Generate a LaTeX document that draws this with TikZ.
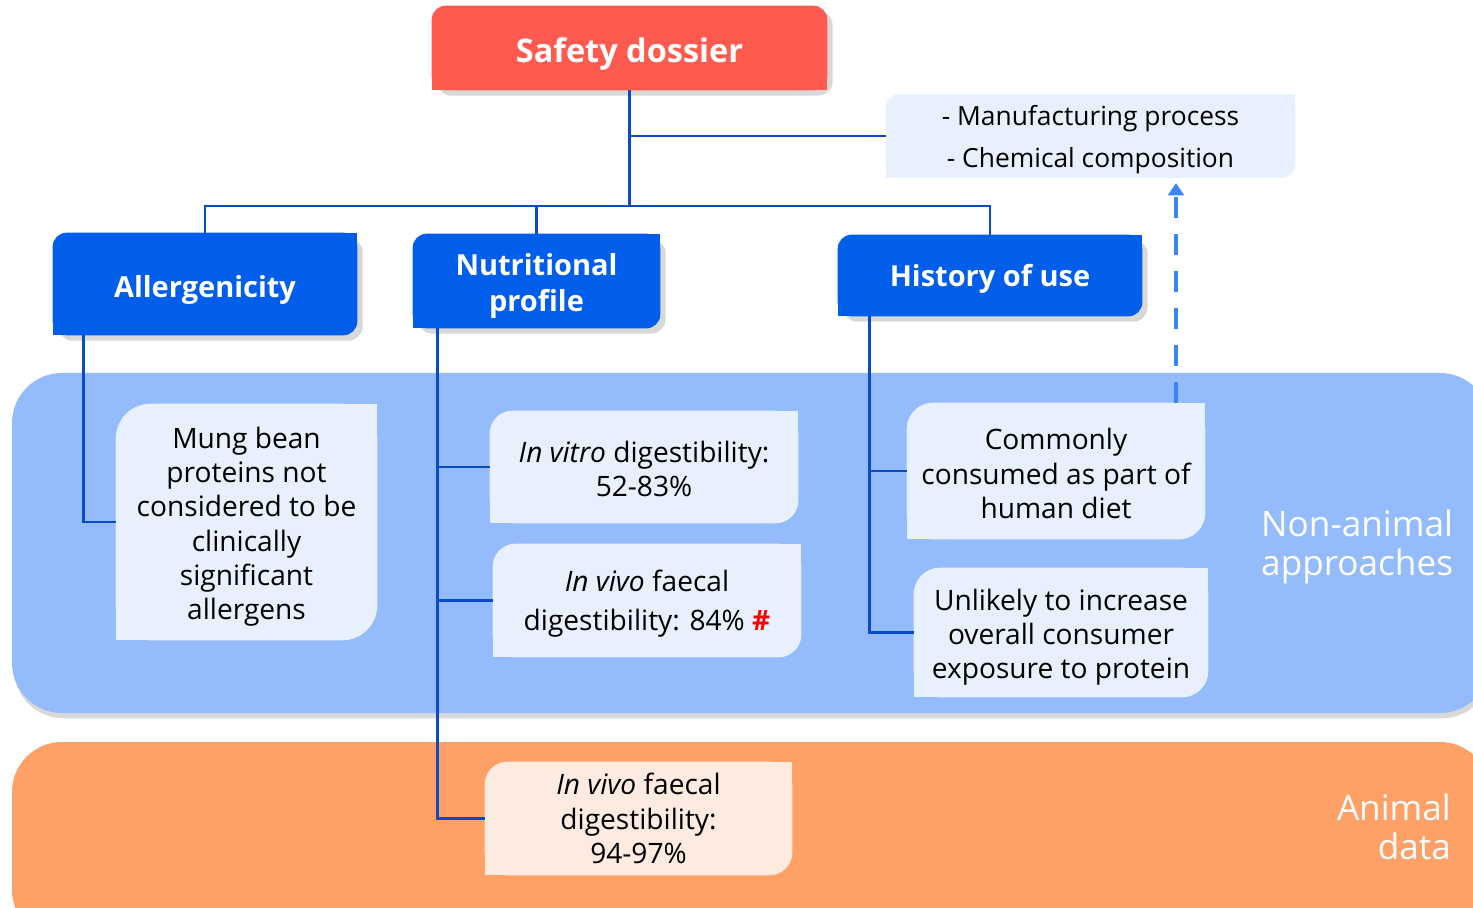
\documentclass[tikz,border=0pt]{standalone}
\usepackage{fontspec}
\setmainfont{Open Sans}
\usetikzlibrary{shadows,arrows.meta}

\definecolor{dossierred}{HTML}{FF5A50}
\definecolor{headblue}{HTML}{005EEA}
\definecolor{linkblue}{HTML}{0A4CC8}
\definecolor{bandblue}{HTML}{94BBFC}
\definecolor{cardblue}{HTML}{E8F0FD}
\definecolor{bandorange}{HTML}{FFA066}
\definecolor{cardorange}{HTML}{FDEBE0}
\definecolor{dashblue}{HTML}{3A86F7}

\pgfdeclarelayer{back}
\pgfdeclarelayer{boxes}
\pgfsetlayers{back,boxes,main}

% box behind node #2: rounded top left and bottom right corners
\newcommand{\leaf}[4][]{%
  \begin{pgfonlayer}{boxes}
    \fill[#3, rounded corners=#4, #1] (#2.north east) -- (#2.south east) -- (#2.south west) -- (#2.north west) -- cycle;
    \fill[#3] (#2.north east) rectangle ([xshift=-#4, yshift=-#4]#2.north east);
    \fill[#3] (#2.south west) rectangle ([xshift=#4, yshift=#4]#2.south west);
  \end{pgfonlayer}}
% strut that sets the height of a first line
\newcommand{\lift}[1]{\rule{0pt}{#1}}

\begin{document}
\begin{tikzpicture}[x=0.02cm, y=-0.02cm,
    header/.style={text=white, font=\fontsize{16.5}{20.5}\selectfont\bfseries, align=center, inner sep=0pt},
    card/.style={font=\fontsize{16}{19.5}\selectfont, align=center, inner sep=0pt},
    link/.style={draw=linkblue, line width=1.5pt},
    side/.style={text=white, font=\fontsize{20}{22}\selectfont},
    hshadow/.style={drop shadow={shadow xshift=3pt, shadow yshift=-3pt, opacity=.3}}]
    \useasboundingbox (0,0) rectangle (1473,908);

    % bands
    \begin{pgfonlayer}{back}
        \fill[white] (0,0) rectangle (1473,908);
        \fill[bandblue, rounded corners=1cm, drop shadow={shadow xshift=1pt, shadow yshift=-3pt, opacity=.3}] (12,373) rectangle (1490,713);
        \fill[bandorange, rounded corners=1cm, drop shadow={shadow xshift=1pt, shadow yshift=-3pt, opacity=.3}] (12,742) rectangle (1490,940);
    \end{pgfonlayer}

    % top
    \node[header, font=\fontsize{18.5}{22}\selectfont\bfseries, minimum width=7.9cm, minimum height=1.68cm] (safety) at (629.5,48) {\lift{21pt}Safety dossier};
    \begin{pgfonlayer}{boxes}
        \fill[dossierred, hshadow, rounded corners=8pt] (safety.south west) -- (safety.north west) -- (safety.north east) -- (safety.south east) -- cycle;
        \fill[dossierred] (safety.south west) rectangle ([yshift=9pt]safety.south east);
    \end{pgfonlayer}
    \node[card, font=\fontsize{15}{24}\selectfont, minimum width=8.18cm, minimum height=1.66cm] (manuf) at (1090.5,136) {\lift{16pt}- Manufacturing process\\- Chemical composition};
    \leaf{manuf}{cardblue}{8pt}
    \coordinate (hub) at (629.5,206);

    % headers
    \node[header, minimum width=6.08cm, minimum height=2.04cm] (allerg) at (205,284) {\lift{19.5pt}Allergenicity};
    \leaf[hshadow]{allerg}{headblue}{8pt}
    \node[header, minimum width=4.94cm, minimum height=1.88cm] (nutr) at (536.5,281) {\lift{18pt}Nutritional\\profile};
    \leaf[hshadow]{nutr}{headblue}{8pt}
    \node[header, minimum width=6.08cm, minimum height=1.62cm] (hist) at (990,275.5) {\lift{17pt}History of use};
    \leaf[hshadow]{hist}{headblue}{8pt}

    % cards
    \node[card, minimum width=5.22cm, minimum height=4.72cm] (mung) at (246.5,522) {\lift{17.5pt}Mung bean\\proteins not\\considered to be\\clinically\\significant\\allergens};
    \leaf{mung}{cardblue}{20pt}
    \node[card, minimum width=6.16cm, minimum height=2.24cm] (vitro) at (644,467) {\lift{14.5pt}\textit{In vitro} digestibility:\\52-83\%};
    \leaf{vitro}{cardblue}{13pt}
    \node[card, font=\fontsize{16}{22}\selectfont, minimum width=6.16cm, minimum height=2.26cm] (vivo) at (647,600.5) {\lift{16pt}\textit{In vivo} faecal\\digestibility: 84\% {\color{red}\bfseries\#}};
    \leaf{vivo}{cardblue}{13pt}
    \node[card, minimum width=6.14cm, minimum height=2.26cm] (animal) at (638.5,818.5) {\textit{In vivo} faecal\\digestibility:\\94-97\%};
    \leaf{animal}{cardorange}{13pt}
    \node[card, minimum width=5.96cm, minimum height=2.72cm] (common) at (1056,471) {\lift{15pt}Commonly\\consumed as part of\\human diet};
    \leaf{common}{cardblue}{15pt}
    \node[card, minimum width=5.88cm, minimum height=2.58cm] (unlikely) at (1061,632.5) {\lift{17.5pt}Unlikely to increase\\overall consumer\\exposure to protein};
    \leaf{unlikely}{cardblue}{15pt}

    % band labels
    \node[side, align=left, anchor=west] (nonanimal) at (1255,547) {Non-animal\\approaches};
    \node[side, align=right, anchor=east] (animaldata) at (1457,827) {Animal\\data};

    % connectors
    \draw[link] (safety.south) -- (hub);
    \draw[link] (safety.south) |- (manuf.west);
    \draw[link] (allerg.north) |- (hub);
    \draw[link] (nutr.north) |- (hub);
    \draw[link] (hist.north) |- (hub);
    \draw[link] ([xshift=0.62cm]allerg.south west) |- (mung.west);
    \draw[link] ([xshift=0.5cm]nutr.south west) |- (vitro.west);
    \draw[link] ([xshift=0.5cm]nutr.south west) |- (vivo.west);
    \draw[link] ([xshift=0.5cm]nutr.south west) |- (animal.west);
    \draw[link] ([xshift=0.64cm]hist.south west) |- (common.west);
    \draw[link] ([xshift=0.64cm]hist.south west) |- (unlikely.west);
    \coordinate (dashx) at (1176,0);
    \draw[dashblue, line width=2.5pt, dash pattern=on 12pt off 9pt, shorten >=3pt, -{Triangle[length=7pt, width=9pt]}] (common.north -| dashx) -- (manuf.south -| dashx);
\end{tikzpicture}
\end{document}
